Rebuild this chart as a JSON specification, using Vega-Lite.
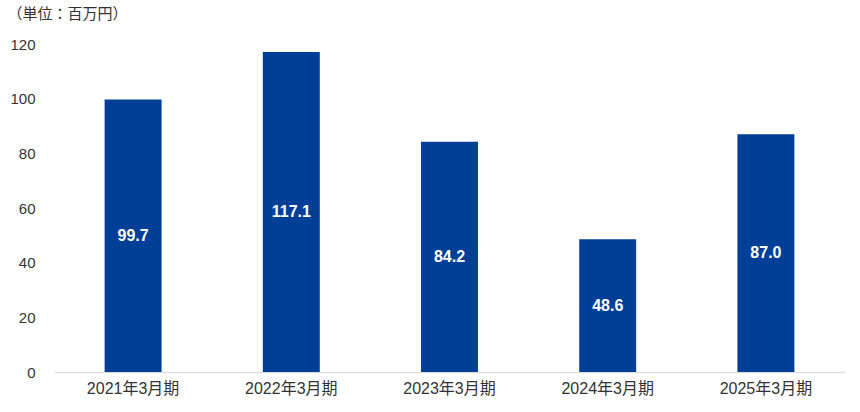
{
  "$schema": "https://vega.github.io/schema/vega-lite/v6.json",
  "width": 791,
  "height": 328,
  "autosize": {"type": "none"},
  "padding": {"left": 54, "top": 44, "right": 15, "bottom": 40},
  "background": "white",
  "config": {"view": {"stroke": null}, "font": "Liberation Sans, Noto Sans CJK JP"},
  "data": {"values": [
    {"period": "2021年3月期", "value": 99.7},
    {"period": "2022年3月期", "value": 117.1},
    {"period": "2023年3月期", "value": 84.2},
    {"period": "2024年3月期", "value": 48.6},
    {"period": "2025年3月期", "value": 87.0}
  ]},
  "encoding": {
    "x": {"field": "period", "type": "nominal", "sort": null,
      "scale": {"paddingInner": 0.64, "paddingOuter": 0.32},
      "axis": {"title": null, "labelAngle": 0, "ticks": false, "domainColor": "#d9d9d9", "domainWidth": 1,
        "labelFont": "Liberation Sans, Noto Sans CJK JP", "labelFontSize": 16, "labelColor": "#333333", "labelPadding": 8, "labelFontWeight": "normal"}}
  },
  "layer": [
    {"mark": {"type": "bar", "color": "#003F98"},
      "encoding": {"y": {"field": "value", "type": "quantitative",
      "scale": {"domain": [0, 120]},
      "axis": {"values": [0, 20, 40, 60, 80, 100, 120], "grid": false, "domain": false, "ticks": false,
        "labelFont": "Liberation Sans", "labelFontSize": 15, "labelColor": "#333333", "labelPadding": 19, "labelFontWeight": "normal",
        "title": "（単位：百万円）", "titleAngle": 0, "titleAlign": "left", "titleBaseline": "middle",
        "titleX": -47, "titleY": -31, "titleFont": "Noto Sans CJK JP", "titleFontSize": 15, "titleFontWeight": "normal", "titleColor": "#333333"}}}},
    {"mark": {"type": "text", "color": "white", "font": "Liberation Sans", "fontSize": 16, "fontWeight": "bold", "baseline": "middle"},
      "encoding": {"y": {"field": "value", "type": "quantitative", "scale": {"domain": [0, 240]}, "axis": null},
        "text": {"field": "value", "type": "quantitative", "format": ".1f"}}}
  ],
  "resolve": {"scale": {"y": "independent"}}
}
